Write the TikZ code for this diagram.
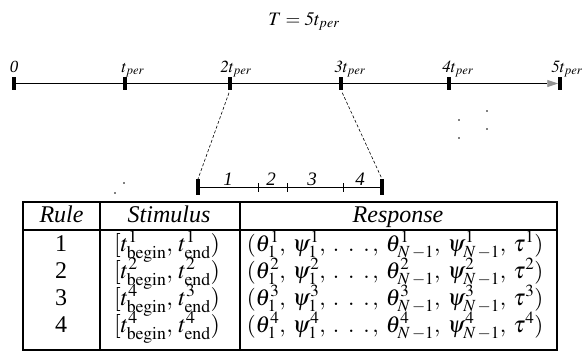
\documentclass[tikz,border=0pt]{standalone}
\usepackage{mathptmx}
\usepackage{fontspec}
\setmainfont{Liberation Serif}
\usetikzlibrary{arrows.meta}
\newcommand{\spdots}{\mathinner{.\mkern7mu.\mkern7mu.}}
\newcommand{\gp}{\mkern3.5mu}
\begin{document}
\begin{tikzpicture}[x=1pt,y=-1pt,
  bigtick/.style={draw=none,fill=black,minimum width=3.5pt,minimum height=13pt,inner sep=0pt,outer sep=0pt},
  subbig/.style={bigtick,minimum width=4pt,minimum height=16pt},
  smalltick/.style={draw=none,fill=black,minimum width=0.8pt,minimum height=9pt,inner sep=0pt,outer sep=0pt},
  lbl/.style={font=\fontsize{17}{19}\selectfont,anchor=base,inner sep=0pt},
  sublbl/.style={font=\fontsize{19}{21}\selectfont\itshape,anchor=base,inner sep=0pt},
  head/.style={font=\fontsize{24}{26}\selectfont,anchor=base,inner sep=0pt},
  cell/.style={font=\fontsize{24}{26}\selectfont,anchor=base,inner sep=0pt},
  resp/.style={font=\fontsize{23}{25}\selectfont,anchor=base,inner sep=0pt},
  conn/.style={dash pattern=on 3pt off 2pt,line width=0.6pt},
  grid/.style={line width=1.8pt},
  dotmark/.style={fill=black}]
\useasboundingbox (0,0) rectangle (585,354);
% title
\node[font=\fontsize{19}{21}\selectfont,anchor=base,inner sep=0pt] (title) at (304,25) {$T = \mathit{5}t_{per}$};
% main timeline ticks
\node[bigtick] (t0) at (14,83.5) {};
\node[bigtick] (t1) at (125,83.5) {};
\node[bigtick] (t2) at (230,83.5) {};
\node[bigtick] (t3) at (341,83.5) {};
\node[bigtick] (t4) at (449,83.5) {};
\node[bigtick] (t5) at (560,83.5) {};
\draw[line width=0.9pt,-{Triangle[length=11pt,width=7pt,color=gray!85]}] (t0.center) -- (t5.west);
% labels
\node[lbl] (l0) at (14,72) {\textit{0}};
\node[lbl] (l1) at (133,72) {$t_{per}$};
\node[lbl] (l2) at (236,72) {$\mathit{2}t_{per}$};
\node[lbl] (l3) at (350,72) {$\mathit{3}t_{per}$};
\node[lbl] (l4) at (458,72) {$\mathit{4}t_{per}$};
\node[lbl] (l5) at (567,72) {$\mathit{5}t_{per}$};
% sub timeline
\node[subbig] (s0) at (198,187) {};
\node[subbig] (s4) at (382,187) {};
\node[smalltick] (s1) at (258,187.5) {};
\node[smalltick] (s2) at (287,187.5) {};
\node[smalltick] (s3) at (343,187.5) {};
\draw[line width=0.9pt] (s0.center) -- (s4.center);
\node[sublbl] (n1) at (228,185) {1};
\node[sublbl] (n2) at (271,185) {2};
\node[sublbl] (n3) at (312,185) {3};
\node[sublbl] (n4) at (360,185) {4};
% dashed zoom lines
\draw[conn,shorten <=3pt] (t2.south) -- (s0.north);
\draw[conn,shorten <=3pt] (t3.south) -- (s4.north);
% stray dots
\fill[dotmark] (487,111) circle (0.8pt);
\fill[dotmark] (459,120) circle (0.8pt);
\fill[dotmark] (487,129) circle (0.8pt);
\fill[dotmark] (459,138) circle (0.8pt);
\fill[dotmark] (124,183) circle (0.8pt);
\fill[dotmark] (115,193) circle (0.8pt);
% table
\draw[line width=2pt] (23,202) rectangle (557,350);
\draw[grid] (23,230) -- (557,230);
\draw[grid] (100,202) -- (100,350);
\draw[grid] (240,202) -- (240,350);
\node[head] (hr) at (61.5,222) {\textit{Rule}};
\node[head] (hs) at (169,222) {\textit{Stimulus}};
\node[head] (hp) at (398,222) {\textit{Response}};
\node[cell] (r1) at (61,251) {1};
\node[cell] (r2) at (61,278) {2};
\node[cell] (r3) at (61,305) {3};
\node[cell] (r4) at (61,332) {4};
\node[cell] (st1) at (167,251) {$[t^1_{\mathrm{begin}},\, t^1_{\mathrm{end}})$};
\node[cell] (st2) at (167,278) {$[t^2_{\mathrm{begin}},\, t^2_{\mathrm{end}})$};
\node[cell] (st3) at (167,305) {$[t^4_{\mathrm{begin}},\, t^3_{\mathrm{end}})$};
\node[cell] (st4) at (167,332) {$[t^4_{\mathrm{begin}},\, t^4_{\mathrm{end}})$};
\node[resp] (rp1) at (395,251) {$(\theta_1^1,\gp\psi_1^1,\gp\spdots,\gp\theta_{N\,-1}^1,\gp\psi_{N\,-1}^1,\gp\tau^1)$};
\node[resp] (rp2) at (395,278) {$(\theta_1^2,\gp\psi_1^2,\gp\spdots,\gp\theta_{N\,-1}^2,\gp\psi_{N\,-1}^2,\gp\tau^2)$};
\node[resp] (rp3) at (395,305) {$(\theta_1^3,\gp\psi_1^3,\gp\spdots,\gp\theta_{N\,-1}^3,\gp\psi_{N\,-1}^3,\gp\tau^3)$};
\node[resp] (rp4) at (395,332) {$(\theta_1^4,\gp\psi_1^4,\gp\spdots,\gp\theta_{N\,-1}^4,\gp\psi_{N\,-1}^4,\gp\tau^4)$};
\end{tikzpicture}
\end{document}
